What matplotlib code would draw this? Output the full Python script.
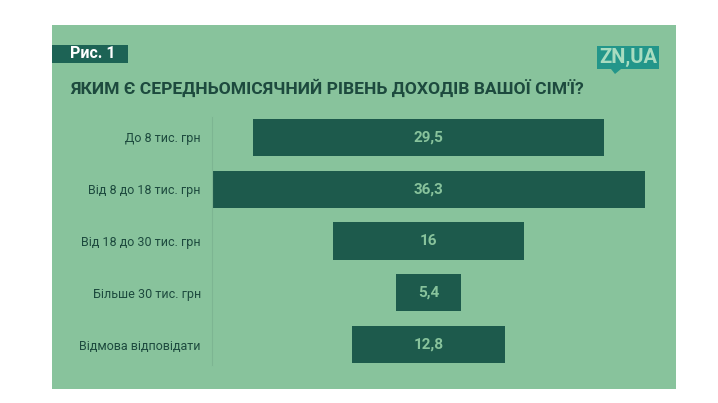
import matplotlib.pyplot as plt
from matplotlib.patches import Rectangle, Polygon

categories = ['До 8 тис. грн', 'Від 8 до 18 тис. грн', 'Від 18 до 30 тис. грн',
              'Більше 30 тис. грн', 'Відмова відповідати']
values = [29.5, 36.3, 16, 5.4, 12.8]
value_labels = ['29,5', '36,3', '16', '5,4', '12,8']

W, H = 718, 403
panel_color = '#88c39c'
bar_color = '#1d5a4c'
text_color = '#1d4a3e'

plt.rcParams['font.family'] = ['Roboto', 'DejaVu Sans']

fig = plt.figure(figsize=(W / 100, H / 100), dpi=100)
fig.patch.set_facecolor('white')


def fx(px):
    return px / W


def fy(py):
    return 1 - py / H


# green panel
fig.patches.append(Rectangle((fx(52), fy(389)), fx(676) - fx(52), fy(25) - fy(389),
                             transform=fig.transFigure, facecolor=panel_color,
                             edgecolor='none', zorder=0))

# "Рис. 1" tag
fig.patches.append(Rectangle((fx(52), fy(63)), fx(128) - fx(52), fy(45) - fy(63),
                             transform=fig.transFigure, facecolor='#1d6355',
                             edgecolor='none', zorder=1))
fig.text(fx(70), fy(54), 'Рис. 1', color='white', fontsize=11.5, fontweight='bold',
         va='center', ha='left', zorder=2)

fig.text(fx(70), fy(88), 'ЯКИМ Є СЕРЕДНЬОМІСЯЧНИЙ РІВЕНЬ ДОХОДІВ ВАШОЇ СІМ\'Ї?',
         color=text_color, fontsize=12.6, fontweight='bold', va='center', ha='left')

# logo
logo_color = '#23968a'
fig.patches.append(Rectangle((fx(597), fy(69)), fx(659) - fx(597), fy(46) - fy(69),
                             transform=fig.transFigure, facecolor=logo_color,
                             edgecolor='none', zorder=1))
fig.patches.append(Polygon([(fx(611), fy(69)), (fx(621), fy(69)), (fx(615), fy(74))],
                           closed=True, transform=fig.transFigure,
                           facecolor=logo_color, edgecolor='none', zorder=1))
fig.text(fx(628), fy(57.5), 'ZN,UA', color='#a8dcc0', fontsize=14.5, fontweight='bold',
         va='center', ha='center', zorder=2)

# chart axes
ax = fig.add_axes([fx(212), fy(365.2), fx(645) - fx(212), fy(116.8) - fy(365.2)])
ax.set_zorder(5)
ax.set_facecolor('none')
y = list(range(len(categories)))
lefts = [-v / 2 for v in values]
ax.barh(y, values, left=lefts, height=0.715, color=bar_color)
for yi, lab in zip(y, value_labels):
    ax.text(0, yi, lab, color=panel_color, fontsize=11, fontweight='bold',
            ha='center', va='center')

ax.set_xlim(-max(values) / 2, max(values) / 2)
ax.set_ylim(4.4, -0.4)
ax.set_yticks(y)
ax.set_yticklabels(categories, fontsize=9, color=text_color)
ax.tick_params(axis='y', length=0, pad=8)
ax.set_xticks([])
for s in ['top', 'right', 'bottom']:
    ax.spines[s].set_visible(False)
ax.spines['left'].set_color('#7db592')
ax.spines['left'].set_linewidth(0.8)

fig.savefig('out.png', dpi=100, facecolor='white')
